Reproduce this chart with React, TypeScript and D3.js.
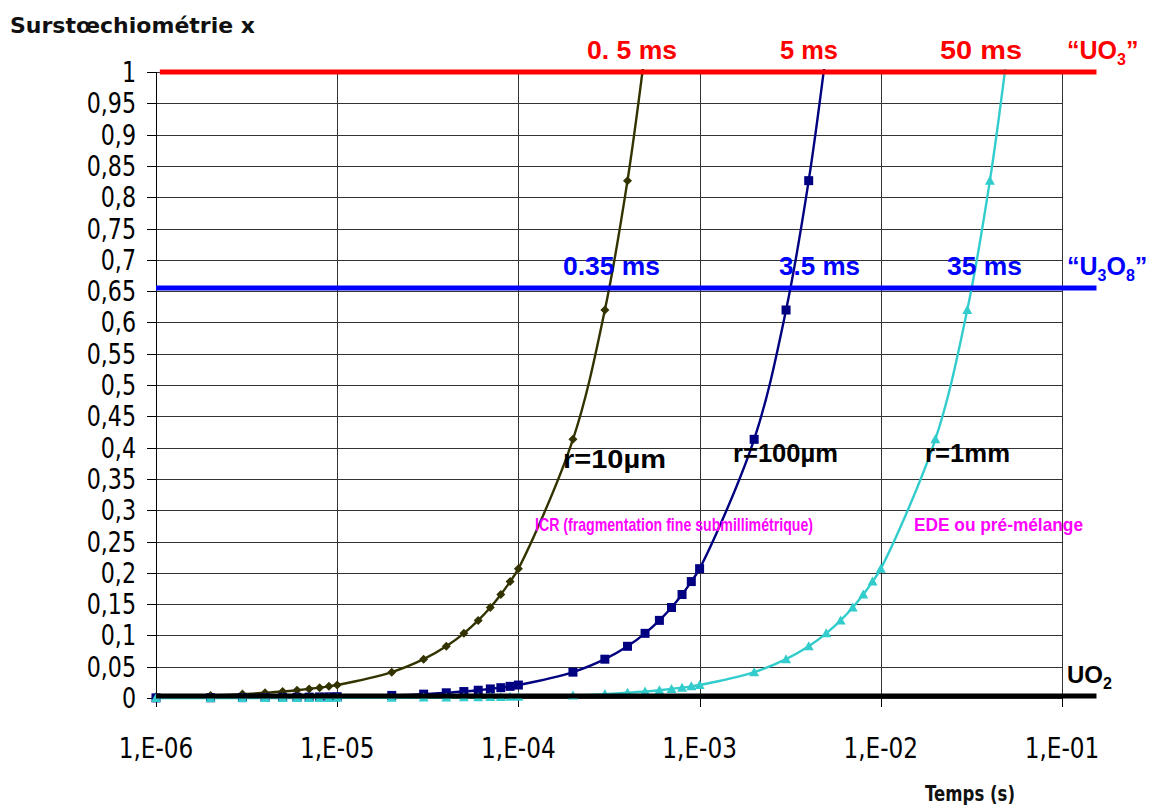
import React from "react";
import * as d3 from "d3";

// ---- data ----
const times = [
  1e-6, 2e-6, 3e-6, 4e-6, 5e-6, 6e-6, 7e-6, 8e-6, 9e-6,
  1e-5, 2e-5, 3e-5, 4e-5, 5e-5, 6e-5, 7e-5, 8e-5, 9e-5,
  1e-4, 2e-4, 3e-4, 4e-4, 5e-4, 6e-4, 7e-4, 8e-4, 9e-4,
  1e-3, 2e-3, 3e-3, 4e-3, 5e-3, 6e-3, 7e-3, 8e-3, 9e-3,
  1e-2, 2e-2, 3e-2, 4e-2, 5e-2,
];

const r10um = [
  0.0021, 0.0041, 0.0062, 0.0083, 0.0103, 0.0124, 0.0145, 0.0165, 0.0186,
  0.0207, 0.0413, 0.062, 0.0826, 0.1033, 0.124, 0.1446, 0.1653, 0.186,
  0.2066, 0.4132, 0.6198, 0.8264, 1.033,
];

const r100um = [
  0.0002, 0.0004, 0.0006, 0.0008, 0.001, 0.0012, 0.0014, 0.0017, 0.0019,
  0.0021, 0.0041, 0.0062, 0.0083, 0.0103, 0.0124, 0.0145, 0.0165, 0.0186,
  0.0207, 0.0413, 0.062, 0.0826, 0.1033, 0.124, 0.1446, 0.1653, 0.186,
  0.2066, 0.4132, 0.6198, 0.8264, 1.033,
];

const r1mm = [
  0.00002, 0.00004, 0.00006, 0.00008, 0.0001, 0.00012, 0.00014, 0.00017, 0.00019,
  0.0002, 0.0004, 0.0006, 0.0008, 0.001, 0.0012, 0.0014, 0.0017, 0.0019,
  0.0021, 0.0041, 0.0062, 0.0083, 0.0103, 0.0124, 0.0145, 0.0165, 0.0186,
  0.0207, 0.0413, 0.062, 0.0826, 0.1033, 0.124, 0.1446, 0.1653, 0.186,
  0.2066, 0.4132, 0.6198, 0.8264, 1.033,
];

const refLevels = [
  { name: "UO3", value: 1, color: "#ff0000", start: 1.05e-6 },
  { name: "U3O8", value: 0.655, color: "#0000ff", start: 1e-6 },
  { name: "UO2", value: 0.003, color: "#000000", start: 1e-6 },
];
const refEnd = 0.155;

const yTicks = [0, 0.05, 0.1, 0.15, 0.2, 0.25, 0.3, 0.35, 0.4, 0.45, 0.5, 0.55, 0.6, 0.65, 0.7, 0.75, 0.8, 0.85, 0.9, 0.95, 1];
const xTicks = [1e-6, 1e-5, 1e-4, 1e-3, 1e-2, 1e-1];
const xTickLabels = ["1,E-06", "1,E-05", "1,E-04", "1,E-03", "1,E-02", "1,E-01"];

// ---- layout ----
const W = 1156, H = 808;
const L = 156, R = 1062, T = 72, B = 698;

const x = d3.scaleLog().domain([1e-6, 1e-1]).range([L, R]);
const y = d3.scaleLinear().domain([0, 1]).range([B, T]);

const tickFont = "'DejaVu Sans Condensed', 'DejaVu Sans', sans-serif";
const boldFont = "'Liberation Sans', Arial, sans-serif";
const titleFont = "'DejaVu Sans', Verdana, sans-serif";

const line = d3
  .line<[number, number]>()
  .x((d) => x(d[0]))
  .y((d) => y(d[1]))
  .curve(d3.curveCatmullRom.alpha(0.5));

function Marker({ kind, cx, cy, color }: { kind: string; cx: number; cy: number; color: string }) {
  if (kind === "diamond") {
    const s = 4.5;
    return <path d={`M${cx},${cy - s}L${cx + s},${cy}L${cx},${cy + s}L${cx - s},${cy}Z`} fill={color} />;
  }
  if (kind === "square") {
    const s = 4.5;
    return <rect x={cx - s} y={cy - s} width={2 * s} height={2 * s} fill={color} />;
  }
  const s = 5;
  return <path d={`M${cx},${cy - s}L${cx + s},${cy + s * 0.8}L${cx - s},${cy + s * 0.8}Z`} fill={color} />;
}

const series = [
  { name: "r=10µm", values: r10um, color: "#333300", marker: "diamond" },
  { name: "r=100µm", values: r100um, color: "#000080", marker: "square" },
  { name: "r=1mm", values: r1mm, color: "#33cccc", marker: "triangle" },
];

function Lbl({ x0, y0, w, size, children }: { x0: number; y0: number; w: number; size: number; children: React.ReactNode }) {
  return (
    <text x={x0} y={y0} fontSize={size} textLength={w} lengthAdjust="spacingAndGlyphs">
      {children}
    </text>
  );
}

export default function App() {
  return (
    <svg width={W} height={H} style={{ position: "absolute", left: 0, top: 0, background: "#fff" }}>
      <defs>
        <clipPath id="plotclip">
          <rect x={L - 6} y={T - 3} width={R - L + 12} height={B - T + 10} />
        </clipPath>
      </defs>
      <rect x={0} y={0} width={W} height={H} fill="#fff" />

      {/* horizontal grid */}
      {yTicks.map((v) => (
        <line key={"hg" + v} x1={L} x2={R} y1={Math.round(y(v)) + 0.5} y2={Math.round(y(v)) + 0.5} stroke="#333" strokeWidth={1} />
      ))}
      {/* vertical grid */}
      {xTicks.slice(1).map((t) => (
        <line key={"vg" + t} x1={Math.round(x(t)) + 0.5} x2={Math.round(x(t)) + 0.5} y1={T} y2={B + 9} stroke="#333" strokeWidth={1} />
      ))}

      {/* y axis */}
      <line x1={L + 0.5} x2={L + 0.5} y1={T} y2={B} stroke="#000" strokeWidth={1} />
      {yTicks.map((v) => (
        <g key={"yt" + v}>
          <line x1={L - 9} x2={L} y1={Math.round(y(v)) + 0.5} y2={Math.round(y(v)) + 0.5} stroke="#000" />
          <g transform={`translate(136,${y(v) + 10}) scale(0.88,1)`}>
            <text x={0} y={0} textAnchor="end" fontFamily={tickFont} fontSize={28} fill="#000">
              {String(v).replace(".", ",")}
            </text>
          </g>
        </g>
      ))}
      {xTicks.map((t, i) => (
        <g key={"xt" + t}>
          <line x1={Math.round(x(t)) + 0.5} x2={Math.round(x(t)) + 0.5} y1={B} y2={B + 9} stroke="#000" />
          <g transform={`translate(${x(t)},758) scale(0.92,1)`}>
            <text x={0} y={0} textAnchor="middle" fontFamily={tickFont} fontSize={28} fill="#000">
              {xTickLabels[i]}
            </text>
          </g>
        </g>
      ))}

      {/* series */}
      <g clipPath="url(#plotclip)">
        {series.map((s) => {
          const pts = s.values.map((v, i) => [times[i], v] as [number, number]);
          return (
            <g key={s.name}>
              <path d={line(pts) || ""} fill="none" stroke={s.color} strokeWidth={2.4} />
              {pts
                .filter((p) => p[1] <= 1)
                .map((p, i) => (
                  <Marker key={i} kind={s.marker} cx={x(p[0])} cy={y(p[1])} color={s.color} />
                ))}
            </g>
          );
        })}
      </g>

      {/* reference levels */}
      {refLevels.map((r) => (
        <line key={r.name} x1={x(r.start)} x2={x(refEnd)} y1={y(r.value)} y2={y(r.value)} stroke={r.color} strokeWidth={5} />
      ))}

      {/* titles */}
      <text x={10} y={33} fontFamily={titleFont} fontWeight="bold" fontSize={22} fill="#111" textLength={245} lengthAdjust="spacingAndGlyphs">
        Surstœchiométrie x
      </text>
      <text x={925} y={801} fontFamily={titleFont} fontWeight="bold" fontSize={21} fill="#111" textLength={90} lengthAdjust="spacingAndGlyphs">
        Temps (s)
      </text>

      {/* red labels */}
      <g fontFamily={boldFont} fontWeight="bold" fill="#ff0000">
        <Lbl x0={587} y0={59} w={90} size={25}>0. 5 ms</Lbl>
        <Lbl x0={780} y0={59} w={58} size={25}>5 ms</Lbl>
        <Lbl x0={940} y0={59} w={82} size={25}>50 ms</Lbl>
        <text x={1067} y={59} fontSize={25}>
          “UO<tspan fontSize={16} dy={6}>3</tspan><tspan dy={-6}>”</tspan>
        </text>
      </g>
      {/* blue labels */}
      <g fontFamily={boldFont} fontWeight="bold" fill="#0000ff">
        <Lbl x0={563} y0={275} w={97} size={25}>0.35 ms</Lbl>
        <Lbl x0={779} y0={275} w={81} size={25}>3.5 ms</Lbl>
        <Lbl x0={947} y0={275} w={75} size={25}>35 ms</Lbl>
        <text x={1067} y={275} fontSize={25}>
          “U<tspan fontSize={16} dy={6}>3</tspan><tspan dy={-6}>O</tspan><tspan fontSize={16} dy={6}>8</tspan><tspan dy={-6}>”</tspan>
        </text>
      </g>
      {/* radius labels */}
      <g fontFamily={boldFont} fontWeight="bold" fill="#000">
        <Lbl x0={563} y0={468} w={103} size={25}>r=10µm</Lbl>
        <Lbl x0={733} y0={462} w={105} size={25}>r=100µm</Lbl>
        <Lbl x0={925} y0={462} w={85} size={25}>r=1mm</Lbl>
        <text x={1067} y={683} fontSize={24}>
          UO<tspan fontSize={16} dy={6}>2</tspan>
        </text>
      </g>
      {/* magenta labels */}
      <g fontFamily={boldFont} fontWeight="bold" fill="#ff00ff">
        <Lbl x0={535} y0={531} w={278} size={19}>ICR (fragmentation fine submillimétrique)</Lbl>
        <Lbl x0={914} y0={531} w={169} size={19}>EDE ou pré-mélange</Lbl>
      </g>
    </svg>
  );
}
